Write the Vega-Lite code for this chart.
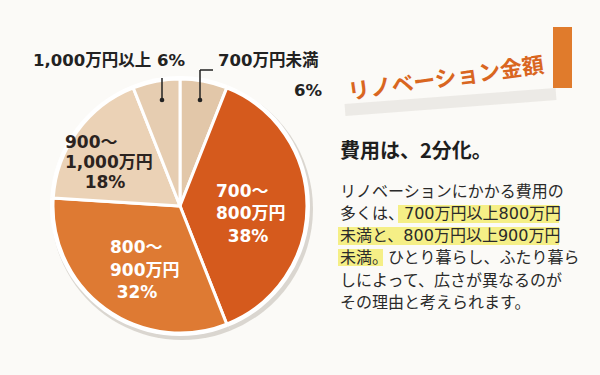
{
  "$schema": "https://vega.github.io/schema/vega-lite/v6.json",
  "width": 600,
  "height": 375,
  "autosize": {"type": "none"},
  "padding": 0,
  "background": "#fbfaf7",
  "config": {"view": {"stroke": null}, "font": "Noto Sans CJK JP"},
  "datasets": {
    "pie": [
      {"idx": 1, "cat": "700万円未満", "pct": 6},
      {"idx": 2, "cat": "700～800万円", "pct": 38},
      {"idx": 3, "cat": "800～900万円", "pct": 32},
      {"idx": 4, "cat": "900～1,000万円", "pct": 18},
      {"idx": 5, "cat": "1,000万円以上", "pct": 6}
    ],
    "inner": [
      {"slice": 2, "line": 1, "text": "700～", "x": 216, "y": 192},
      {"slice": 2, "line": 2, "text": "800万円", "x": 216, "y": 214},
      {"slice": 2, "line": 3, "text": "38%", "x": 248, "y": 237},
      {"slice": 3, "line": 1, "text": "800～", "x": 110, "y": 248},
      {"slice": 3, "line": 2, "text": "900万円", "x": 110, "y": 271},
      {"slice": 3, "line": 3, "text": "32%", "x": 137, "y": 293},
      {"slice": 4, "line": 1, "text": "900～", "x": 65, "y": 143},
      {"slice": 4, "line": 2, "text": "1,000万円", "x": 65, "y": 163},
      {"slice": 4, "line": 3, "text": "18%", "x": 105, "y": 183}
    ],
    "outer": [
      {"text": "1,000万円以上 6%", "x": 185, "y": 61, "side": "right"},
      {"text": "700万円未満", "x": 218, "y": 61, "side": "left"},
      {"text": "6%", "x": 322, "y": 91, "side": "right"}
    ],
    "leaders": [
      {"x": 162, "y": 78, "x2": 162, "y2": 100},
      {"x": 200, "y": 70, "x2": 200, "y2": 100},
      {"x": 200, "y": 70, "x2": 213, "y2": 70}
    ],
    "dots": [{"x": 162, "y": 100}, {"x": 200, "y": 100}],
    "smudge": [{"x": 345, "y": 110, "x2": 556, "y2": 94}],
    "highlights": [
      {"x": 398, "x2": 559, "y": 205, "y2": 223},
      {"x": 338, "x2": 559, "y": 227, "y2": 245},
      {"x": 338, "x2": 383, "y": 249, "y2": 266}
    ],
    "body": [
      {"text": "リノベーションにかかる費用の", "y": 192},
      {"text": "多くは、700万円以上800万円", "y": 214},
      {"text": "未満と、800万円以上900万円", "y": 236},
      {"text": "未満。ひとり暮らし、ふたり暮ら", "y": 258},
      {"text": "しによって、広さが異なるのが", "y": 281},
      {"text": "その理由と考えられます。", "y": 303}
    ],
    "titles": [
      {"text": "費用は、2分化。", "x": 340, "y": 152}
    ],
    "banner": [
      {"text": "リノベーション金額", "x": 446, "y": 79}
    ],
    "tab": [
      {"x": 553, "x2": 572, "y": 27, "y2": 88}
    ]
  },
  "encoding": {
    "x": {"type": "quantitative", "scale": {"domain": [0, 600], "range": [0, 600]}, "axis": null},
    "y": {"type": "quantitative", "scale": {"domain": [0, 375], "range": [0, 375]}, "axis": null}
  },
  "layer": [
    {
      "data": {"name": "pie"},
      "mark": {"type": "arc", "radius": 131, "color": "#d2cdc6", "opacity": 0.8},
      "encoding": {
        "x": {"datum": 182},
        "y": {"datum": 209},
        "theta": {"field": "pct", "type": "quantitative", "stack": true, "scale": {"domain": [0, 100]}},
        "order": {"field": "idx"}
      }
    },
    {
      "data": {"name": "pie"},
      "mark": {"type": "arc", "radius": 130, "color": "#ffffff"},
      "encoding": {
        "x": {"datum": 180},
        "y": {"datum": 206},
        "theta": {"field": "pct", "type": "quantitative", "stack": true},
        "order": {"field": "idx"}
      }
    },
    {
      "data": {"name": "pie"},
      "mark": {"type": "arc", "radius": 127, "stroke": "#ffffff", "strokeWidth": 3},
      "encoding": {
        "x": {"datum": 180},
        "y": {"datum": 206},
        "theta": {"field": "pct", "type": "quantitative", "stack": true},
        "order": {"field": "idx"},
        "color": {
          "field": "cat",
          "type": "nominal",
          "scale": {
            "domain": ["700万円未満", "700～800万円", "800～900万円", "900～1,000万円", "1,000万円以上"],
            "range": ["#e2c7a9", "#d55a1d", "#de7a33", "#ebd2b6", "#e6cdb1"]
          },
          "legend": null
        }
      }
    },
    {
      "data": {"name": "inner"},
      "transform": [{"filter": "datum.line < 3"}],
      "mark": {"type": "text", "align": "left", "baseline": "middle", "fontSize": 17, "fontWeight": "bold", "font": "DejaVu Sans, Noto Sans CJK JP"},
      "encoding": {
        "x": {"field": "x", "type": "quantitative"},
        "y": {"field": "y", "type": "quantitative"},
        "text": {"field": "text"},
        "color": {"condition": {"test": "datum.slice == 4", "value": "#2b2320"}, "value": "#ffffff"}
      }
    },
    {
      "data": {"name": "inner"},
      "transform": [{"filter": "datum.line == 3"}],
      "mark": {"type": "text", "align": "center", "baseline": "middle", "fontSize": 17, "fontWeight": "bold", "font": "DejaVu Sans, Noto Sans CJK JP"},
      "encoding": {
        "x": {"field": "x", "type": "quantitative"},
        "y": {"field": "y", "type": "quantitative"},
        "text": {"field": "text"},
        "color": {"condition": {"test": "datum.slice == 4", "value": "#2b2320"}, "value": "#ffffff"}
      }
    },
    {
      "data": {"name": "leaders"},
      "mark": {"type": "rule", "color": "#222222", "strokeWidth": 1.5},
      "encoding": {
        "x": {"field": "x", "type": "quantitative"},
        "y": {"field": "y", "type": "quantitative"},
        "x2": {"field": "x2"},
        "y2": {"field": "y2"}
      }
    },
    {
      "data": {"name": "dots"},
      "mark": {"type": "point", "filled": true, "color": "#222222", "size": 22, "opacity": 1},
      "encoding": {
        "x": {"field": "x", "type": "quantitative"},
        "y": {"field": "y", "type": "quantitative"}
      }
    },
    {
      "data": {"name": "outer"},
      "transform": [{"filter": "datum.side == 'right'"}],
      "mark": {"type": "text", "align": "right", "baseline": "middle", "fontSize": 16.5, "fontWeight": "bold", "color": "#222222", "font": "DejaVu Sans, Noto Sans CJK JP"},
      "encoding": {
        "x": {"field": "x", "type": "quantitative"},
        "y": {"field": "y", "type": "quantitative"},
        "text": {"field": "text"}
      }
    },
    {
      "data": {"name": "outer"},
      "transform": [{"filter": "datum.side == 'left'"}],
      "mark": {"type": "text", "align": "left", "baseline": "middle", "fontSize": 16.5, "fontWeight": "bold", "color": "#222222", "font": "DejaVu Sans, Noto Sans CJK JP"},
      "encoding": {
        "x": {"field": "x", "type": "quantitative"},
        "y": {"field": "y", "type": "quantitative"},
        "text": {"field": "text"}
      }
    },
    {
      "data": {"name": "smudge"},
      "mark": {"type": "rule", "color": "#e2dfdb", "strokeWidth": 12, "opacity": 0.6},
      "encoding": {
        "x": {"field": "x", "type": "quantitative"},
        "y": {"field": "y", "type": "quantitative"},
        "x2": {"field": "x2"},
        "y2": {"field": "y2"}
      }
    },
    {
      "data": {"name": "tab"},
      "mark": {"type": "rect", "color": "#e07b2c"},
      "encoding": {
        "x": {"field": "x", "type": "quantitative"},
        "x2": {"field": "x2"},
        "y": {"field": "y", "type": "quantitative"},
        "y2": {"field": "y2"}
      }
    },
    {
      "data": {"name": "banner"},
      "mark": {"type": "text", "align": "center", "baseline": "middle", "angle": -8, "fontSize": 22, "fontWeight": "bold", "color": "#d9661f"},
      "encoding": {
        "x": {"field": "x", "type": "quantitative"},
        "y": {"field": "y", "type": "quantitative"},
        "text": {"field": "text"}
      }
    },
    {
      "data": {"name": "titles"},
      "mark": {"type": "text", "align": "left", "baseline": "middle", "fontSize": 20, "fontWeight": "bold", "color": "#1e1e1e"},
      "encoding": {
        "x": {"field": "x", "type": "quantitative"},
        "y": {"field": "y", "type": "quantitative"},
        "text": {"field": "text"}
      }
    },
    {
      "data": {"name": "highlights"},
      "mark": {"type": "rect", "color": "#f5ef86"},
      "encoding": {
        "x": {"field": "x", "type": "quantitative"},
        "x2": {"field": "x2"},
        "y": {"field": "y", "type": "quantitative"},
        "y2": {"field": "y2"}
      }
    },
    {
      "data": {"name": "body"},
      "mark": {"type": "text", "align": "left", "baseline": "middle", "fontSize": 16, "color": "#2a2a2a", "font": "DejaVu Sans, Noto Sans CJK JP"},
      "encoding": {
        "x": {"datum": 340},
        "y": {"field": "y", "type": "quantitative"},
        "text": {"field": "text"}
      }
    }
  ]
}
